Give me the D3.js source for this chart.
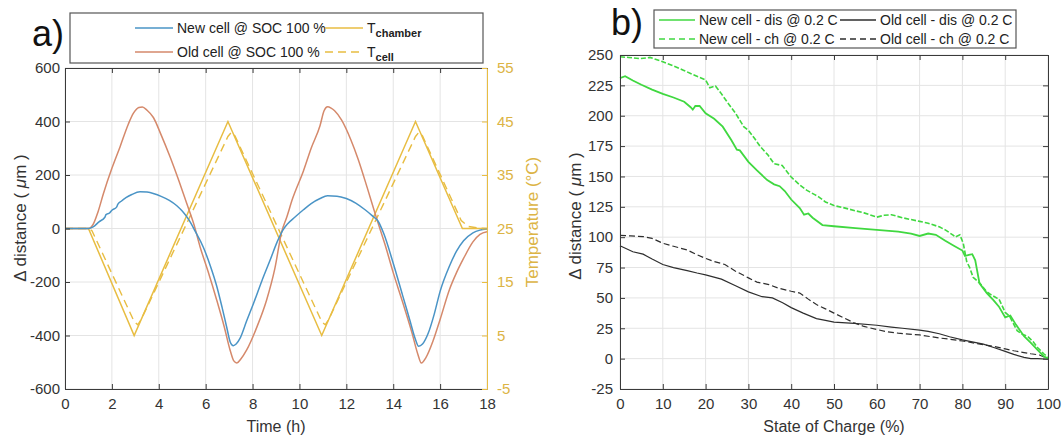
<!DOCTYPE html>
<html><head><meta charset="utf-8">
<script src="https://cdn.jsdelivr.net/npm/d3@7"></script>
<style>
body{margin:0;background:#fff}
svg{font-family:"Liberation Sans",Arial,sans-serif}
</style>
</head><body>
<svg id="c" width="1064" height="436"></svg>
<script>
// ---------- DATA: panel a ----------
const timeNew = [0,1,1.2,1.45,1.7,1.75,1.9,2.0,2.2,2.25,2.4,2.6,2.85,3.2,3.5,3.8,4.1,4.45,4.77,5.0,5.3,5.55,5.9,6.2,6.47,6.7,6.9,7.05,7.18,7.3,7.47,7.75,8.04,8.4,8.75,9.05,9.3,9.5,9.8,10.17,10.5,10.88,11.2,11.6,12.0,12.4,12.8,13.1,13.35,13.6,14.0,14.4,14.7,14.95,15.08,15.25,15.5,15.75,16.0,16.4,16.7,17.0,17.4,17.7,18];
const distNew = [0,0,6,25,42,52,58,68,80,90,102,115,127,137,136,130,120,105,85,65,30,-10,-70,-140,-215,-295,-370,-425,-438,-432,-410,-345,-280,-195,-118,-50,-5,18,42,70,93,112,122,121,112,95,70,48,28,-20,-130,-250,-340,-415,-440,-432,-390,-320,-235,-140,-85,-46,-16,-6,-2];
const timeOld = [0,1,1.2,1.4,1.64,2.0,2.35,2.7,2.92,3.15,3.3,3.5,3.77,4.1,4.48,4.85,5.19,5.5,5.76,6.1,6.47,6.8,7.04,7.2,7.33,7.5,7.75,8.2,8.6,8.95,9.25,9.45,9.7,10.17,10.5,10.88,11.05,11.2,11.35,11.5,11.8,12.2,12.5,12.9,13.3,13.65,14.0,14.4,14.8,15.05,15.2,15.4,15.7,16.0,16.4,16.7,17.0,17.4,17.7,18];
const distOld = [0,0,15,60,131,225,306,390,431,452,454,442,415,350,268,180,94,15,-68,-160,-267,-370,-454,-495,-503,-488,-454,-365,-267,-150,-10,40,110,215,300,385,440,455,450,440,405,330,260,150,35,-60,-165,-275,-390,-470,-503,-482,-420,-340,-228,-165,-112,-50,-22,-12];
const timeChamber = [0,1,2.95,6.95,10.95,14.95,16.95,18];
const tempChamber = [25,25,5,45,5,45,25,25];
const timeCell = [0,1,1.15,2.95,3.1,3.25,6.95,7.1,7.25,10.95,11.1,11.25,14.95,15.1,15.25,16.9,17.2,17.6,18];
const tempCell = [25,25,24.6,7.6,7,8,42.2,43,42.3,7.6,7,8,42.2,43,42.3,26.5,25.4,25.1,25];
const timeTicks = [0,2,4,6,8,10,12,14,16,18];
const distTicksA = [-600,-400,-200,0,200,400,600];
const tempTicks = [-5,5,15,25,35,45,55];

// ---------- DATA: panel b ----------
const socNewDis = [0,1.2,3,5,7.5,10,12.5,15,16.5,17,17.6,18.6,20,22,24,26,27.3,28,30,32,34.4,36,37.3,38.5,40,42,43,44,45,47.3,50,55,60,65,68,70,72,73.8,76,78,80,80.6,81.5,82.3,83,84,85.7,87.3,88.5,90,91.2,92.5,94.4,96,97.6,99,100];
const distNewDis = [231,232.5,229,225.5,221.5,218,215,211.5,207,205,208,208,202,197.5,191,180,172,171.5,162,155,147,143.5,142,138,131,124,118.5,119.5,116,110,109,107.5,106,104.5,103,101,103,102,97,93,89,84.5,85.5,86,81,62,54,48,43,34,35.5,28,18.5,13,7,2,0];
const socNewCh = [0,2,4.7,7,10,12.5,14.8,17,20,21,22.3,23.5,25,27,28.9,30,31.5,32.8,34.5,36,37.9,40,42,43.7,45.5,46.5,48,50,52,54.7,57,60,61.7,63.4,66,70,72,74.6,76,77.9,78.3,79.4,80.2,81,81.7,82.5,84.1,85.7,86.5,88,88.5,90,91,92.8,94,95.2,96.5,97.6,99,100];
const distNewCh = [248.5,248,247,248,244.5,241,237.5,234,229.5,223,224.5,219,211.5,202,191,188,181,174.5,168,160.5,159,149.5,143,138.5,135,133,129,126,124.5,122,120,116.5,118,118.5,116,113,111.5,108.5,106,101.5,100,102,95,80,75,67,62,55,53,50,49.5,38,35,23,20,18.5,14,9,4,1];
const socOldDis = [0,3,5.4,7.5,10,12.5,15.7,18,20,23.7,27,30,33.2,35.6,38,40,42.8,45.9,48,50,54.7,60,63.4,66,70,72,74.6,77,80,82,84.9,87.5,90,92,94.4,96,97.6,100];
const distOldDis = [93,88,86,82,77.5,75,72.5,70.5,69,65.5,60,55,51,50,46,42,37.5,33,31.5,30,29,27.5,26,25,23.5,22.5,20.5,18,15.5,14,12,9,6,3.5,1,0,0,-0.5];
const socOldCh = [0,2.5,5.4,7.5,10,12.5,15.7,18,20,22,24.5,27,30,32,34.8,37,40,42,44,45.9,48,50,52,54.7,57,60,62.5,65,70,74.6,77,80,82.5,84.9,87.5,90,92,94.4,96,98,100];
const distOldCh = [101.5,101,100.5,99,95,92.5,89.5,85.5,82.5,80,77.5,72,66.5,63,61,58,55.5,54,49,44.5,41,37.5,34,29.5,26.5,24,22,21,19.5,17,16,14.5,13,11.5,10,8,6.5,5,4,3,0];
const socTicks = [0,10,20,30,40,50,60,70,80,90,100];
const distTicksB = [-25,0,25,50,75,100,125,150,175,200,225,250];

// ---------- styles ----------
const cBlue = "#4a94c6", cOrange = "#d5896b", cYellow = "#e8bd42", cYellowTxt = "#dcb445";
const cGreen = "#40d840", cBlack = "#2e2e2e", cAxis = "#3a3a3a", cGrid = "#e4e4e4", cText = "#333";
const svg = d3.select("#c");
const zip = (xs, ys) => xs.map((x, i) => [x, ys[i]]);

function gridAndFrame(g, x, y, xt, yt) {
  g.append("g").selectAll("line").data(xt).join("line")
    .attr("x1", d => x(d)).attr("x2", d => x(d)).attr("y1", y.range()[0]).attr("y2", y.range()[1])
    .attr("stroke", cGrid).attr("stroke-width", 1);
  g.append("g").selectAll("line").data(yt).join("line")
    .attr("y1", d => y(d)).attr("y2", d => y(d)).attr("x1", x.range()[0]).attr("x2", x.range()[1])
    .attr("stroke", cGrid).attr("stroke-width", 1);
}
function styleAxis(a, color, size) {
  a.select(".domain").attr("stroke", color).attr("stroke-width", 1);
  a.selectAll(".tick line").attr("stroke", color);
  a.selectAll("text").attr("fill", color === cYellow ? cYellowTxt : cText).attr("font-size", size);
  a.attr("font-family", null);
}

// ---------- panel a ----------
const xa = d3.scaleLinear().domain([0, 18]).range([65, 487]);
const ya = d3.scaleLinear().domain([-600, 600]).range([389, 68]);
const yt = d3.scaleLinear().domain([-5, 55]).range([389, 68]);
const ga = svg.append("g");
gridAndFrame(ga, xa, ya, timeTicks, distTicksA);

const lineA = d3.line().x(d => xa(d[0])).y(d => ya(d[1])).curve(d3.curveMonotoneX);
const lineT = d3.line().x(d => xa(d[0])).y(d => yt(d[1]));
ga.append("path").attr("d", lineT(zip(timeCell, tempCell))).attr("fill", "none")
  .attr("stroke", cYellow).attr("stroke-width", 1.4).attr("stroke-dasharray", "8,5");
ga.append("path").attr("d", lineT(zip(timeChamber, tempChamber))).attr("fill", "none")
  .attr("stroke", cYellow).attr("stroke-width", 1.5);
ga.append("path").attr("d", lineA(zip(timeOld, distOld))).attr("fill", "none")
  .attr("stroke", cOrange).attr("stroke-width", 1.5);
ga.append("path").attr("d", lineA(zip(timeNew, distNew))).attr("fill", "none")
  .attr("stroke", cBlue).attr("stroke-width", 1.5);

const fmt = d => String(d);
const axB = ga.append("g").attr("transform", "translate(0,389)")
  .call(d3.axisBottom(xa).tickValues(timeTicks).tickFormat(fmt).tickSizeInner(-5).tickSizeOuter(0).tickPadding(9));
styleAxis(axB, cAxis, 15);
const axT = ga.append("g").attr("transform", "translate(0,68)")
  .call(d3.axisTop(xa).tickValues(timeTicks).tickFormat("").tickSizeInner(-5).tickSizeOuter(0));
styleAxis(axT, cAxis, 15);
const axL = ga.append("g").attr("transform", "translate(65,0)")
  .call(d3.axisLeft(ya).tickValues(distTicksA).tickFormat(fmt).tickSizeInner(-5).tickSizeOuter(0).tickPadding(5));
styleAxis(axL, cAxis, 15);
const axR = ga.append("g").attr("transform", "translate(487,0)")
  .call(d3.axisRight(yt).tickValues(tempTicks).tickFormat(fmt).tickSizeInner(-5).tickSizeOuter(0).tickPadding(10));
styleAxis(axR, cYellow, 15);

ga.append("text").attr("x", 276).attr("y", 432).attr("text-anchor", "middle")
  .attr("font-size", 16).attr("fill", cText).text("Time (h)");
ga.append("text").attr("transform", "translate(26,218) rotate(-90)").attr("text-anchor", "middle")
  .attr("font-size", 17).attr("fill", cText)
  .html('Δ distance ( <tspan font-style="italic">μ</tspan>m )');
ga.append("text").attr("transform", "translate(538,222) rotate(-90)").attr("text-anchor", "middle")
  .attr("font-size", 17).attr("fill", cYellowTxt).text("Temperature (°C)");
ga.append("text").attr("x", 32).attr("y", 46).attr("font-size", 36).attr("fill", "#111").text("a)");

// legend a
const la = ga.append("g");
la.append("rect").attr("x", 70).attr("y", 13).attr("width", 413).attr("height", 50)
  .attr("fill", "#fff").attr("stroke", "#555").attr("stroke-width", 1.2);
const legA = [
  {x: 135, y: 28, c: cBlue, dash: null, t: "New cell @ SOC 100 %"},
  {x: 135, y: 52, c: cOrange, dash: null, t: "Old cell @ SOC 100 %"},
  {x: 325, y: 28, c: cYellow, dash: null, t: "T", sub: "chamber"},
  {x: 325, y: 52, c: cYellow, dash: "8,5", t: "T", sub: "cell"}
];
legA.forEach(e => {
  la.append("line").attr("x1", e.x).attr("x2", e.x + 38).attr("y1", e.y).attr("y2", e.y)
    .attr("stroke", e.c).attr("stroke-width", 1.5).attr("stroke-dasharray", e.dash);
  const t = la.append("text").attr("x", e.x + 42).attr("y", e.y + 5).attr("font-size", 14).attr("fill", "#222").text(e.t);
  if (e.sub) t.append("tspan").attr("dy", 4).attr("font-size", 11).attr("font-weight", "bold").text(e.sub);
});

// ---------- panel b ----------
const xb = d3.scaleLinear().domain([0, 100]).range([620, 1048]);
const yb = d3.scaleLinear().domain([-25, 250]).range([389, 55]);
const gb = svg.append("g");
gridAndFrame(gb, xb, yb, socTicks, distTicksB);
const lineB = d3.line().x(d => xb(d[0])).y(d => yb(d[1]));
const seriesB = [
  {xs: socOldCh, ys: distOldCh, c: cBlack, dash: "6,3", w: 1.2},
  {xs: socOldDis, ys: distOldDis, c: cBlack, dash: null, w: 1.2},
  {xs: socNewCh, ys: distNewCh, c: cGreen, dash: "5,2", w: 1.6},
  {xs: socNewDis, ys: distNewDis, c: cGreen, dash: null, w: 1.8}
];
seriesB.forEach(s => gb.append("path").attr("d", lineB(zip(s.xs, s.ys))).attr("fill", "none")
  .attr("stroke", s.c).attr("stroke-width", s.w).attr("stroke-dasharray", s.dash));

const bB = gb.append("g").attr("transform", "translate(0,389)")
  .call(d3.axisBottom(xb).tickValues(socTicks).tickFormat(fmt).tickSizeInner(-5).tickSizeOuter(0).tickPadding(9));
styleAxis(bB, cAxis, 15);
const bT = gb.append("g").attr("transform", "translate(0,55)")
  .call(d3.axisTop(xb).tickValues(socTicks).tickFormat("").tickSizeInner(-5).tickSizeOuter(0));
styleAxis(bT, cAxis, 15);
const bL = gb.append("g").attr("transform", "translate(620,0)")
  .call(d3.axisLeft(yb).tickValues(distTicksB).tickFormat(fmt).tickSizeInner(-5).tickSizeOuter(0).tickPadding(7));
styleAxis(bL, cAxis, 15);
const bR = gb.append("g").attr("transform", "translate(1048,0)")
  .call(d3.axisRight(yb).tickValues(distTicksB).tickFormat("").tickSizeInner(-5).tickSizeOuter(0));
styleAxis(bR, cAxis, 15);

gb.append("text").attr("x", 834).attr("y", 432).attr("text-anchor", "middle")
  .attr("font-size", 16).attr("fill", cText).text("State of Charge (%)");
gb.append("text").attr("transform", "translate(581,216) rotate(-90)").attr("text-anchor", "middle")
  .attr("font-size", 17).attr("fill", cText)
  .html('Δ distance ( <tspan font-style="italic">μ</tspan>m )');
gb.append("text").attr("x", 611).attr("y", 35).attr("font-size", 36).attr("fill", "#111").text("b)");

const lb = gb.append("g");
lb.append("rect").attr("x", 654).attr("y", 10).attr("width", 362).attr("height", 38)
  .attr("fill", "#fff").attr("stroke", "#555").attr("stroke-width", 1.2);
const legB = [
  {x: 659, y: 20, c: cGreen, dash: null, t: "New cell - dis @ 0.2 C"},
  {x: 659, y: 39, c: cGreen, dash: "6,4", t: "New cell - ch @ 0.2 C"},
  {x: 840, y: 20, c: cBlack, dash: null, t: "Old cell - dis @ 0.2 C"},
  {x: 840, y: 39, c: cBlack, dash: "6,4", t: "Old cell - ch @ 0.2 C"}
];
legB.forEach(e => {
  lb.append("line").attr("x1", e.x).attr("x2", e.x + 36).attr("y1", e.y).attr("y2", e.y)
    .attr("stroke", e.c).attr("stroke-width", 1.5).attr("stroke-dasharray", e.dash);
  lb.append("text").attr("x", e.x + 40).attr("y", e.y + 5).attr("font-size", 14).attr("fill", "#222").text(e.t);
});
</script>
</body></html>
